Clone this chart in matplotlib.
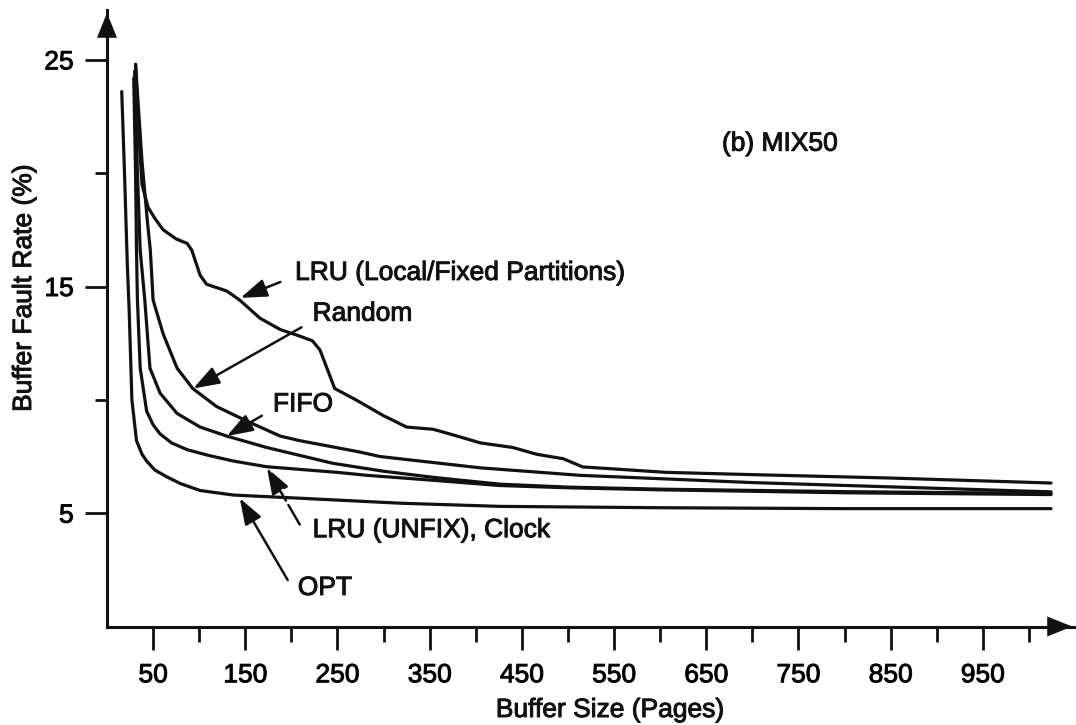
import numpy as np
import matplotlib.pyplot as plt
import matplotlib.patheffects as pe
from matplotlib.patches import FancyArrowPatch

plt.rcParams['font.family'] = ['Liberation Sans', 'DejaVu Sans']

# buffer size (pages) / fault rate (%)
opt_x = [16, 19, 22, 24, 27, 32, 38, 43, 52, 65, 80, 101, 137, 209, 318, 426, 600, 800, 1024]
opt_y = [23.6, 20.0, 16.0, 14.0, 10.0, 8.2, 7.6, 7.3, 6.9, 6.6, 6.3, 6.0, 5.8, 5.66, 5.44, 5.3, 5.24, 5.2, 5.2]

lru_x = [29, 31, 32, 33, 36, 43, 50, 57.5, 70, 87, 110, 137, 173, 250, 282, 354, 426, 500, 600, 800, 1024]
lru_y = [24.2, 20.0, 16.6, 14.4, 11.4, 9.5, 8.9, 8.5, 8.1, 7.8, 7.55, 7.3, 7.05, 6.8, 6.67, 6.45, 6.22, 6.12, 6.03, 5.9, 5.82]

fifo_x = [30, 33, 36, 41, 46.6, 57.5, 76, 101, 130, 173, 245, 300, 354, 426, 500, 600, 800, 1024]
fifo_y = [24.5, 20.0, 16.6, 14.4, 11.4, 10.3, 9.4, 8.8, 8.4, 7.9, 7.2, 6.85, 6.58, 6.28, 6.15, 6.06, 5.95, 5.87]

random_x = [31, 38, 44, 47, 50, 61, 76, 93, 119, 155, 188, 209, 274, 296, 405, 513, 700, 1024]
random_y = [24.8, 20.5, 17.8, 16.6, 14.4, 12.9, 11.4, 10.5, 9.7, 9.0, 8.4, 8.2, 7.7, 7.5, 7.0, 6.67, 6.35, 5.94]

local_x = [31, 34, 38, 44.5, 52, 61, 75, 87, 92, 101, 108, 130, 144, 155, 166, 188, 210, 223, 231,
           247, 270, 300, 325, 354, 380, 405, 440, 466, 495, 516, 607, 700, 850, 1024]
local_y = [24.8, 22.0, 19.5, 18.5, 18.0, 17.5, 17.1, 16.9, 16.6, 15.5, 15.1, 14.8, 14.4, 14.0, 13.6, 13.1,
           12.8, 12.6, 12.2, 10.5, 10.0, 9.3, 8.8, 8.7, 8.4, 8.1, 7.9, 7.6, 7.4, 7.04, 6.8, 6.7, 6.55, 6.33]

x_major = [50, 150, 250, 350, 450, 550, 650, 750, 850, 950]
x_minor = [100, 200, 300, 400, 500, 600, 700, 800, 900, 1000]
y_major = [5, 15, 25]
y_minor = [10, 20]

# label text, text position, arrow tail, arrow head
labels = [
    ("LRU (Local/Fixed Partitions)", (204, 15.6), (188, 15.2), (145, 14.5)),
    ("Random", (223, 13.8), (211, 13.2), (93.5, 10.5)),
    ("FIFO", (180, 9.8), (168, 9.3), (130, 8.4)),
    ("LRU (UNFIX), Clock", (223, 4.25), (209, 4.5), (173.5, 7.0)),
    ("OPT", (207, 1.7), (196, 2.05), (144, 5.66)),
]

ink = '#111111'
fs = 19
bold_ink = [pe.withStroke(linewidth=0.7, foreground=ink)]

fig = plt.figure(figsize=(10.76, 7.25), dpi=100)
ax = fig.add_axes([107 / 1076, 98.5 / 725, 968 / 1076, 616.5 / 725])

for xs, ys in [(opt_x, opt_y), (lru_x, lru_y), (fifo_x, fifo_y), (random_x, random_y), (local_x, local_y)]:
    ax.plot(xs, ys, color=ink, lw=2.3, solid_joinstyle='round', solid_capstyle='round')

ax.set_xlim(0, 1050)
ax.set_ylim(0, 27.2)

for side in ['top', 'right']:
    ax.spines[side].set_visible(False)
for side in ['left', 'bottom']:
    ax.spines[side].set_linewidth(2.2)
    ax.spines[side].set_color(ink)

ax.set_xticks(x_major)
ax.set_xticks(x_minor, minor=True)
ax.set_yticks(y_major)
ax.set_yticks(y_minor, minor=True)
ax.tick_params(axis='x', which='major', length=16.5, width=2, pad=10, labelsize=fs, color=ink)
ax.tick_params(axis='x', which='minor', length=10.5, width=2, color=ink)
ax.tick_params(axis='y', which='major', length=16, width=2, pad=8, labelsize=fs, color=ink)
ax.tick_params(axis='y', which='minor', length=8.5, width=2, color=ink)
for lbl in ax.get_xticklabels() + ax.get_yticklabels():
    lbl.set_path_effects(bold_ink)

# arrow heads on the axes
for tail, head in [((0, 0.96), (0, 1.0)), ((0.97, 0), (1.0, 0))]:
    ax.add_patch(FancyArrowPatch(tail, head, transform=ax.transAxes, clip_on=False,
                                 arrowstyle='-|>,head_length=1.0,head_width=0.4',
                                 mutation_scale=18, color=ink, lw=0))

for text, tpos, tail, head in labels:
    ax.text(tpos[0], tpos[1], text, fontsize=fs, va='center', ha='left', color=ink,
            path_effects=bold_ink)
    ls = (0, (9, 2)) if text.startswith("LRU (UNFIX") else '-'
    ax.annotate('', xy=head, xytext=tail,
                arrowprops=dict(arrowstyle='-|>,head_length=0.8,head_width=0.28', color=ink,
                                lw=1.8, linestyle=ls, mutation_scale=20, shrinkA=0, shrinkB=0))

ax.text(667, 21.3, "(b) MIX50", fontsize=fs, va='center', ha='left', color=ink, path_effects=bold_ink)

fig.text(610 / 1076, 15 / 725, "Buffer Size (Pages)", fontsize=fs, ha='center', va='center',
         color=ink, path_effects=bold_ink)
fig.text(24 / 1076, (725 - 288) / 725, "Buffer Fault Rate (%)", fontsize=fs, rotation=90,
         ha='center', va='center', color=ink, path_effects=bold_ink)

fig.savefig("out.png", dpi=100)
